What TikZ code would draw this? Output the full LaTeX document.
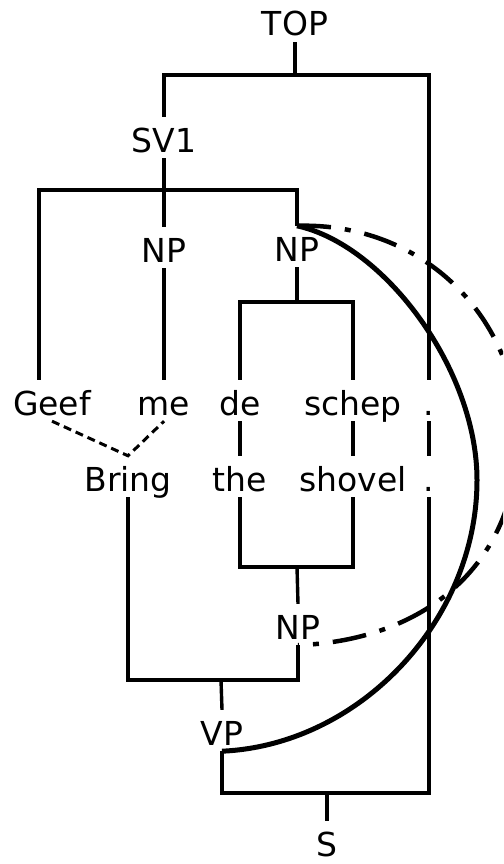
\documentclass[tikz,border=0pt]{standalone}
\usepackage{fontspec}
\setmainfont{DejaVu Sans}
\usetikzlibrary{calc}
\tikzset{
  lbl/.style={font=\fontsize{33}{40}\selectfont, anchor=base, text height=29pt, text depth=0pt, inner xsep=2pt, inner ysep=6pt},
  branch/.style={line width=3.4pt},
  align/.style={line width=3pt, dash pattern=on 8pt off 5pt},
  movearc/.style={line width=5pt},
  tracearc/.style={line width=4.5pt, dash pattern=on 34pt off 14pt on 6pt off 14pt},
}
\begin{document}
\begin{tikzpicture}[x=1pt,y=-1pt]
\useasboundingbox (0,0) rectangle (503,864);
\clip (0,0) rectangle (503,864);

% labels
\node[lbl] (top) at (295,36) {TOP};
\node[lbl] (sv1) at (164,152) {SV1};
\node[lbl] (npa) at (164,262) {NP};
\node[lbl] (npb) at (297,261) {NP};
\node[lbl] (geef) at (52,415) {Geef};
\node[lbl] (me) at (164,415) {me};
\node[lbl] (de) at (240,415) {de};
\node[lbl] (schep) at (353,415) {schep};
\node[lbl] (dota) at (429,415) {.};
\node[lbl] (bring) at (128,491) {Bring};
\node[lbl] (the) at (240,491) {the};
\node[lbl] (shovel) at (353,491) {shovel};
\node[lbl] (dotb) at (429,491) {.};
\node[lbl] (npc) at (298,639) {NP};
\node[lbl] (vp) at (222,745) {VP};
\node[lbl] (s) at (327,856) {S};

% bar corners
\coordinate (r1) at (429,75);
\coordinate (k2) at (39,190);
\coordinate (k3) at (297,302);
\coordinate (k4) at (297,567);
\coordinate (k5) at (221,680);
\coordinate (k6) at (327,793);

% upper tree
\draw[branch] (top.south) -- (top.south |- r1);
\draw[branch] (sv1.north) -- (sv1.north |- r1) -- (r1) -- (dota.north);
\draw[branch] (geef.north -| k2) -- (k2) -- (k2 -| npb.north) -- (npb.north);
\draw[branch] (sv1.south) -- (npa.north);
\draw[branch] (npa.south) -- (me.north);
\draw[branch] (npb.south) -- (k3);
\draw[branch] (de.north) -- (de.north |- k3) -- (schep.north |- k3) -- (schep.north);

% word alignment
\draw[branch] (de.south) -- (the.north);
\draw[branch] (schep.south) -- (shovel.north);
\draw[branch] (dota.south) -- (dotb.north);
\draw[align] (geef.south) -- (bring.north) -- (me.south);

% lower tree
\draw[branch] (the.south) -- (the.south |- k4) -- (shovel.south |- k4) -- (shovel.south);
\draw[branch] (k4) -- (npc.north);
\draw[branch] (bring.south) -- (bring.south |- k5) -- (npc.south |- k5) -- (npc.south);
\draw[branch] (k5) -- (vp.north);
\draw[branch] (vp.south) -- (vp.south |- k6) -- (dotb.south |- k6) -- (dotb.south);
\draw[branch] (k6) -- (s.north);

% arcs
\draw[movearc] (npb.north) .. controls (385,245) and (477,370) .. (477,480)
  .. controls (477,620) and (360,745) .. (vp.south);
\draw[tracearc] (npb.north) .. controls (425,222) and (518,320) .. (518,435)
  .. controls (518,560) and (430,640) .. (npc.south);
\end{tikzpicture}
\end{document}
